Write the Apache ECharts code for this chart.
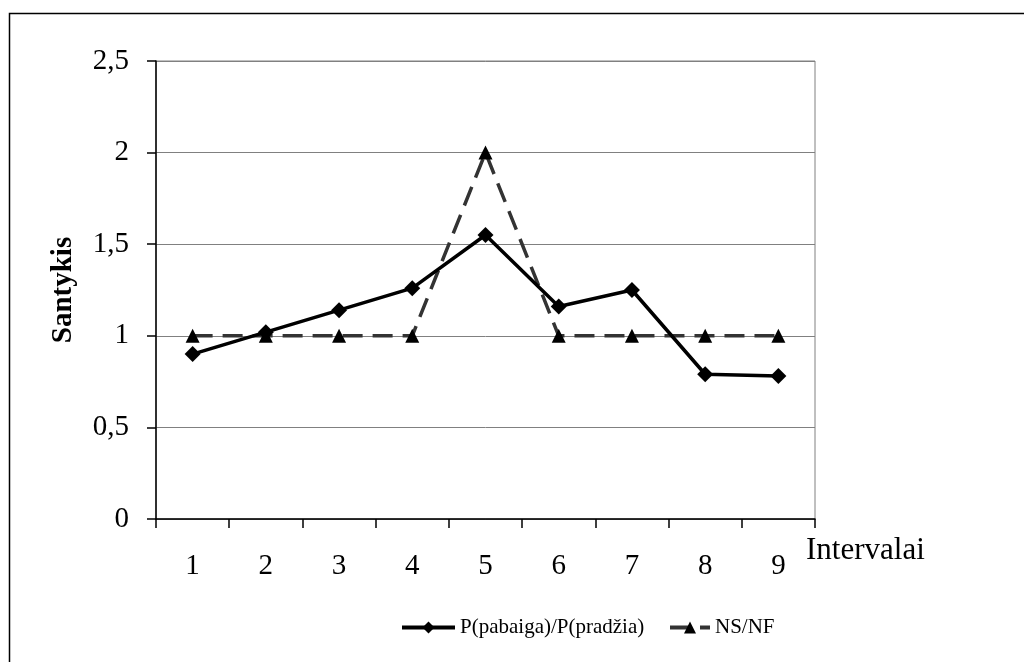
<!DOCTYPE html>
<html>
<head>
<meta charset="utf-8">
<script src="https://cdn.jsdelivr.net/npm/echarts@6/dist/echarts.min.js"></script>
<style>html,body{margin:0;padding:0;background:#fff;}#c{width:1024px;height:662px;}</style>
</head>
<body>
<div id="c"></div>
<script>
var categories = ['1','2','3','4','5','6','7','8','9'];
var seriesP = [0.90, 1.02, 1.14, 1.26, 1.55, 1.16, 1.25, 0.79, 0.78];
var seriesNS = [1, 1, 1, 1, 2, 1, 1, 1, 1];
var nameP = 'P(pabaiga)/P(pradžia)';
var nameNS = 'NS/NF';
var yTitle = 'Santykis';
var xTitle = 'Intervalai';

var FONT = '"Liberation Serif", "Times New Roman", serif';
var legendText = {fontFamily: FONT, fontSize: 21, color: '#000'};
var chart = echarts.init(document.getElementById('c'));
chart.setOption({
  backgroundColor: '#fff',
  animation: false,
  textStyle: {fontFamily: FONT, color: '#000'},
  grid: {left: 156, right: 209, top: 61, bottom: 143, show: true, borderColor: '#808080', borderWidth: 1},
  graphic: [
    {type: 'rect', shape: {x: 9.5, y: 13.5, width: 1200, height: 900}, style: {fill: 'none', stroke: '#000', lineWidth: 1.5}, silent: true},
    {type: 'text', left: 806, top: 535, style: {text: xTitle, font: '31px ' + FONT, fill: '#000'}}
  ],
  legend: [
    {
      left: 400, top: 617, padding: 0,
      itemWidth: 53, itemHeight: 15,
      lineStyle: {width: 4},
      textStyle: legendText,
      data: [nameP]
    },
    {
      left: 668, top: 617, padding: 0,
      itemWidth: 40, itemHeight: 15,
      lineStyle: {width: 4},
      textStyle: legendText,
      data: [nameNS]
    }
  ],
  xAxis: {
    type: 'category',
    data: categories,
    boundaryGap: true,
    axisLine: {lineStyle: {color: '#000', width: 1.5}},
    axisTick: {show: true, length: 9, lineStyle: {color: '#000', width: 1.5}},
    axisLabel: {fontFamily: FONT, fontSize: 29, color: '#000', margin: 33},
    splitLine: {show: false}
  },
  yAxis: {
    type: 'value',
    min: 0, max: 2.5, interval: 0.5,
    name: yTitle,
    nameLocation: 'middle',
    nameGap: 78,
    nameTextStyle: {fontFamily: FONT, fontSize: 29, fontWeight: 'bold', color: '#000'},
    axisLine: {show: true, lineStyle: {color: '#000', width: 1.5}},
    axisTick: {show: true, length: 9, lineStyle: {color: '#000', width: 1.5}},
    axisLabel: {fontFamily: FONT, fontSize: 29, color: '#000', margin: 27,
      formatter: function (v) { return String(v).replace('.', ','); }},
    splitLine: {show: true, lineStyle: {color: '#808080', width: 1}}
  },
  series: [
    {
      name: nameP, type: 'line', data: seriesP,
      symbol: 'diamond', symbolSize: 16,
      lineStyle: {color: '#000', width: 3.5},
      itemStyle: {color: '#000'},
      z: 3
    },
    {
      name: nameNS, type: 'line', data: seriesNS,
      symbol: 'triangle', symbolSize: 14,
      lineStyle: {color: '#333', width: 3.5, type: [20, 10]},
      itemStyle: {color: '#000'},
      z: 2
    }
  ]
});
</script>
</body>
</html>
